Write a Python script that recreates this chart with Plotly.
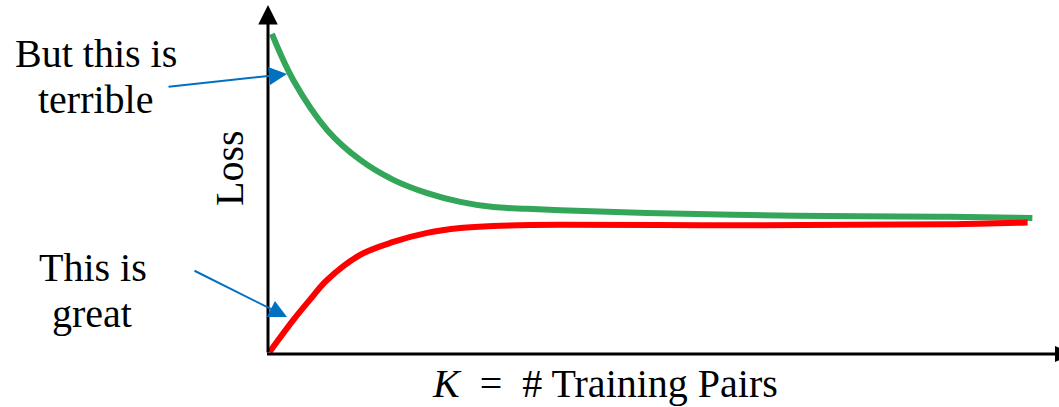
import plotly.graph_objects as go

# ---- data (arbitrary units: K on 0..100, loss on 0..100) ----
k_train = [0.5, 3.2, 7.5, 11.7, 15.9, 20.2, 24.4, 28.6, 32.9, 37.1, 48.1, 61.2, 75.1, 86.5, 97.0]
loss_train = [91.7, 78.5, 64.2, 55.6, 49.9, 46.1, 43.6, 42.1, 41.6, 41.2, 40.4, 39.8, 39.5, 39.3, 39.0]

k_test = [0.2, 3.2, 5.3, 7.5, 11.7, 15.9, 20.2, 24.4, 28.6, 37.1, 54.8, 73.9, 86.5, 96.4]
loss_test = [0.6, 9.7, 15.5, 21.2, 28.4, 32.1, 34.7, 36.1, 36.7, 37.0, 36.9, 37.0, 37.2, 37.7]

x_title = "<i>K</i>\u00a0 =\u00a0 # Training Pairs"
y_title = "Loss"
label_top = ["But this is", "terrible"]
label_bottom = ["This is", "great"]

W, H = 1059, 407
L, R, T, B = 268, 3, 5, 53
FONT = "Liberation Serif"


def px(xp):
    return (xp - L) / (W - L - R)


def py(yp):
    return (H - B - yp) / (H - T - B)


fig = go.Figure()
fig.add_trace(go.Scatter(x=k_train, y=loss_train, mode="lines",
                         line=dict(color="#34A65A", width=6, shape="spline"),
                         hoverinfo="skip"))
fig.add_trace(go.Scatter(x=k_test, y=loss_test, mode="lines",
                         line=dict(color="#FF0000", width=6, shape="spline"),
                         hoverinfo="skip"))

ann = []
# y axis with arrow
ann.append(dict(xref="paper", yref="paper", x=px(268), y=py(5), ax=0, ay=349,
                axref="pixel", ayref="pixel", text="", showarrow=True,
                arrowhead=2, arrowwidth=3, arrowsize=1.3, arrowcolor="black"))
# blue pointer arrows
ann.append(dict(xref="paper", yref="paper", x=px(287), y=py(74), ax=167 - 287, ay=87 - 74,
                text="", showarrow=True, arrowhead=2, arrowwidth=2, arrowsize=1.8,
                arrowcolor="#0070C0"))
ann.append(dict(xref="paper", yref="paper", x=px(287), y=py(317), ax=193 - 287, ay=270 - 317,
                text="", showarrow=True, arrowhead=2, arrowwidth=2, arrowsize=1.8,
                arrowcolor="#0070C0"))


def text(t, xc, yc, angle=0):
    return dict(xref="paper", yref="paper", x=px(xc), y=py(yc), text=t, showarrow=False,
                xanchor="center", yanchor="middle", textangle=angle,
                font=dict(family=FONT, size=40, color="black"))


ann.append(text(label_top[0], 96, 53.5))
ann.append(text(label_top[1], 96, 99.5))
ann.append(text(label_bottom[0], 93, 267.5))
ann.append(text(label_bottom[1], 92, 313.5))
ann.append(text(y_title, 229.5, 168.5, -90))
ann.append(text(x_title, 605, 383.5))

# x axis line and its (clipped) arrowhead
shapes = [
    dict(type="line", xref="paper", yref="paper", x0=px(267), y0=py(354), x1=px(1058), y1=py(354),
         line=dict(color="black", width=3)),
    dict(type="path", xref="paper", yref="paper",
         path=f"M {px(1055)} {py(346)} L {px(1073)} {py(354)} L {px(1055)} {py(362)} Z",
         fillcolor="black", line=dict(width=0)),
]

fig.update_layout(
    width=W, height=H,
    margin=dict(l=L, r=R, t=T, b=B),
    paper_bgcolor="white", plot_bgcolor="white",
    showlegend=False,
    font=dict(family=FONT),
    xaxis=dict(range=[0, 100], visible=False, fixedrange=True),
    yaxis=dict(range=[0, 100], visible=False, fixedrange=True),
    annotations=ann,
    shapes=shapes,
)

fig.write_html("out.html", config={"displayModeBar": False},
               post_script="document.body.style.margin='0';document.body.style.overflow='hidden';")
